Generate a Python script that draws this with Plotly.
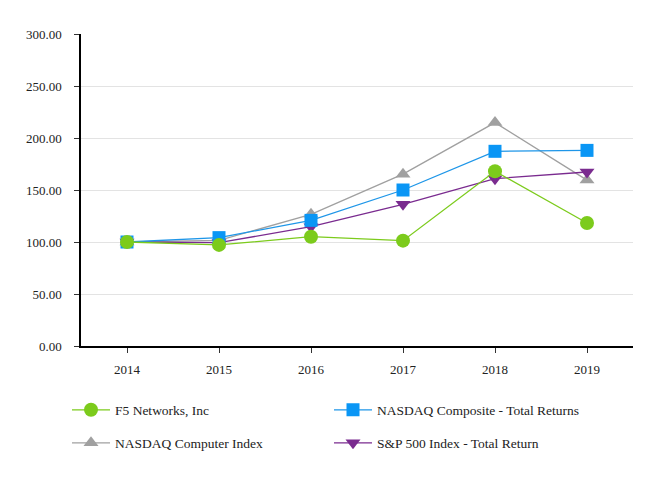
import plotly.graph_objects as go

years = ["2014", "2015", "2016", "2017", "2018", "2019"]
f5 = [100.0, 97.2, 105.1, 101.3, 168.0, 118.3]
nasdaq_comp = [100.0, 104.2, 120.8, 150.0, 187.2, 188.1]
nasdaq_computer = [100.0, 101.5, 126.6, 165.2, 214.8, 159.5]
sp500 = [100.0, 99.4, 114.7, 136.2, 160.9, 167.3]

FONT = "'Times New Roman', Times, 'Liberation Serif', Tinos, serif"

fig = go.Figure()
fig.add_trace(go.Scatter(x=years, y=nasdaq_computer, name="NASDAQ Computer Index", mode="lines+markers",
                         line=dict(color="#A0A0A0", width=1.3),
                         marker=dict(symbol="triangle-up", size=13, color="#A0A0A0"), legend="legend3"))
fig.add_trace(go.Scatter(x=years, y=sp500, name="S&P 500 Index - Total Return", mode="lines+markers",
                         line=dict(color="#7A2B8F", width=1.3),
                         marker=dict(symbol="triangle-down", size=13, color="#7A2B8F"), legend="legend4"))
fig.add_trace(go.Scatter(x=years, y=nasdaq_comp, name="NASDAQ Composite - Total Returns", mode="lines+markers",
                         line=dict(color="#1E96E8", width=1.3),
                         marker=dict(symbol="square", size=13, color="#0A96F5"), legend="legend2"))
fig.add_trace(go.Scatter(x=years, y=f5, name="F5 Networks, Inc", mode="lines+markers",
                         line=dict(color="#7CCB1C", width=1.3),
                         marker=dict(symbol="circle", size=14, color="#7CCB1C"), legend="legend"))

def leg(x, y):
    return dict(x=x, y=y, xref="paper", yref="paper", xanchor="left", yanchor="middle",
                bgcolor="rgba(0,0,0,0)", font=dict(family=FONT, size=13.5, color="#222"),
                itemwidth=38)

# plot area in page pixels: x from 81 to 633 (552 wide), y from 34 to 346 (312 tall)
def px(xp):
    return (xp - 81) / 552.0
def py(yp):
    return (346 - yp) / 312.0

# the page body has an 8px default margin, so the figure is offset by 8px
fig.update_layout(
    width=658, height=472,
    margin=dict(l=73, r=33, t=26, b=134),
    paper_bgcolor="white", plot_bgcolor="white",
    font=dict(family=FONT, size=13, color="#222"),
    showlegend=True,
    legend=leg(px(67), py(410)),
    legend2=leg(px(329), py(410)),
    legend3=leg(px(67), py(443)),
    legend4=leg(px(329), py(443)),
    xaxis=dict(type="category", range=[-0.5, 5.5], showline=True, linecolor="black", linewidth=1.5,
               ticks="outside", ticklen=5, tickcolor="#333", showgrid=False, zeroline=False,
               ticklabelstandoff=6,
               tickfont=dict(family=FONT, size=13, color="#222")),
    yaxis=dict(range=[0, 300], dtick=50, tickformat=".2f", showline=True, linecolor="black", linewidth=1.5,
               ticks="outside", ticklen=5, tickcolor="#333", showgrid=True, gridcolor="#E3E3E3",
               zeroline=False, ticklabelstandoff=10,
               tickfont=dict(family=FONT, size=13, color="#222")),
)

fig.write_html("out.html")
